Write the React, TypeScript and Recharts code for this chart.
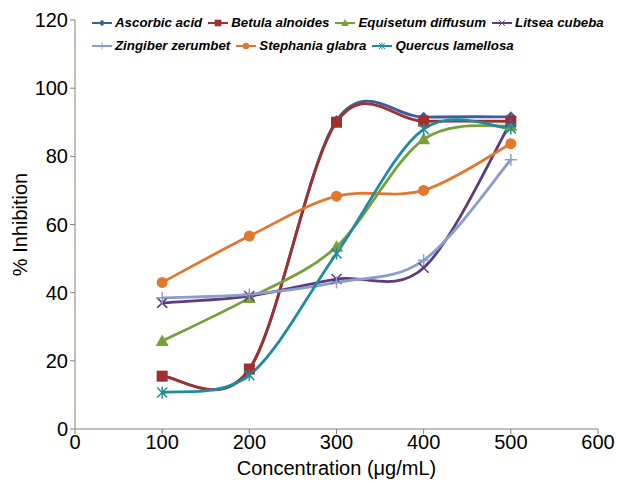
import React from 'react';
import { LineChart, Line, XAxis, YAxis } from 'recharts';

const concentrations = [100, 200, 300, 400, 500];
const ascorbicAcid = [15.5, 17.5, 90.5, 91.5, 91.6];
const betulaAlnoides = [15.5, 17.6, 90, 90.3, 90.3];
const equisetumDiffusum = [25.8, 38.4, 53.5, 85, 89];
const litseaCubeba = [37, 39, 44, 47.3, 90];
const zingiberZerumbet = [38.5, 39.5, 43, 49.5, 79];
const stephaniaGlabra = [43, 56.6, 68.3, 70, 83.7];
const quercusLamellosa = [10.7, 15.8, 51.5, 88, 88.2];

const xTicks = [0, 100, 200, 300, 400, 500, 600];
const yTicks = [0, 20, 40, 60, 80, 100, 120];

type Shape = 'diamond' | 'square' | 'triangle' | 'x' | 'plus' | 'circle' | 'star';

const series: { key: string; name: string; values: number[]; color: string; shape: Shape }[] = [
  { key: 'ascorbic', name: 'Ascorbic acid', values: ascorbicAcid, color: '#3D5E9C', shape: 'diamond' },
  { key: 'betula', name: 'Betula alnoides', values: betulaAlnoides, color: '#A0302D', shape: 'square' },
  { key: 'equisetum', name: 'Equisetum diffusum', values: equisetumDiffusum, color: '#76A03A', shape: 'triangle' },
  { key: 'litsea', name: 'Litsea cubeba', values: litseaCubeba, color: '#5E3A7E', shape: 'x' },
  { key: 'zingiber', name: 'Zingiber zerumbet', values: zingiberZerumbet, color: '#8C9DCB', shape: 'plus' },
  { key: 'stephania', name: 'Stephania glabra', values: stephaniaGlabra, color: '#E0782F', shape: 'circle' },
  { key: 'quercus', name: 'Quercus lamellosa', values: quercusLamellosa, color: '#1E8C9E', shape: 'star' },
];

const data = concentrations.map((c, i) => {
  const row: Record<string, number> = { conc: c };
  series.forEach((s) => {
    row[s.key] = s.values[i];
  });
  return row;
});

// Excel-like smoothing (Catmull-Rom Bezier)
const smoothCurve = (context: any) => {
  let pts: [number, number][] = [];
  return {
    areaStart() {},
    areaEnd() {},
    lineStart() {
      pts = [];
    },
    point(x: number, y: number) {
      pts.push([+x, +y]);
    },
    lineEnd() {
      if (!pts.length) return;
      context.moveTo(pts[0][0], pts[0][1]);
      for (let i = 0; i < pts.length - 1; i++) {
        const p0 = pts[i - 1] || pts[i];
        const p1 = pts[i];
        const p2 = pts[i + 1];
        const p3 = pts[i + 2] || pts[i + 1];
        const c1x = p1[0] + (p2[0] - p0[0]) / 6;
        const c1y = p1[1] + (p2[1] - p0[1]) / 6;
        const c2x = p2[0] - (p3[0] - p1[0]) / 6;
        const c2y = p2[1] - (p3[1] - p1[1]) / 6;
        context.bezierCurveTo(c1x, c1y, c2x, c2y, p2[0], p2[1]);
      }
    },
  };
};

const MarkerShape = ({ cx, cy, color, shape }: { cx: number; cy: number; color: string; shape: Shape }) => {
  switch (shape) {
    case 'diamond':
      return <polygon points={`${cx},${cy - 5.5} ${cx + 5.5},${cy} ${cx},${cy + 5.5} ${cx - 5.5},${cy}`} fill={color} />;
    case 'square':
      return <rect x={cx - 5.5} y={cy - 5.5} width={11} height={11} fill={color} />;
    case 'triangle':
      return <polygon points={`${cx},${cy - 6.5} ${cx + 6.5},${cy + 5} ${cx - 6.5},${cy + 5}`} fill={color} />;
    case 'x':
      return (
        <g stroke={color} strokeWidth={1.5}>
          <line x1={cx - 5} y1={cy - 5} x2={cx + 5} y2={cy + 5} />
          <line x1={cx - 5} y1={cy + 5} x2={cx + 5} y2={cy - 5} />
        </g>
      );
    case 'plus':
      return (
        <g stroke={color} strokeWidth={1.5}>
          <line x1={cx - 6} y1={cy} x2={cx + 6} y2={cy} />
          <line x1={cx} y1={cy - 6} x2={cx} y2={cy + 6} />
        </g>
      );
    case 'circle':
      return <circle cx={cx} cy={cy} r={5.5} fill={color} />;
    case 'star':
      return (
        <g stroke={color} strokeWidth={1.5}>
          <line x1={cx - 5} y1={cy - 5} x2={cx + 5} y2={cy + 5} />
          <line x1={cx - 5} y1={cy + 5} x2={cx + 5} y2={cy - 5} />
          <line x1={cx} y1={cy - 6} x2={cx} y2={cy + 6} />
        </g>
      );
  }
  return null;
};

const LegendIcon = ({ color, shape }: { color: string; shape: Shape }) => (
  <svg width={20} height={12} style={{ display: 'block', overflow: 'visible', flexShrink: 0 }}>
    <line x1={0} y1={6} x2={20} y2={6} stroke={color} strokeWidth={2} />
    <g transform="translate(10,6) scale(0.6) translate(-10,-6)">
      <MarkerShape cx={10} cy={6} color={color} shape={shape} />
    </g>
  </svg>
);

const LegendItem = ({ s }: { s: (typeof series)[number] }) => (
  <div style={{ display: 'flex', alignItems: 'center', marginRight: 6, whiteSpace: 'nowrap', flexShrink: 0 }}>
    <LegendIcon color={s.color} shape={s.shape} />
    <span style={{ marginLeft: 3 }}>{s.name}</span>
  </div>
);

const ChartLegend = () => (
  <div
    style={{
      position: 'absolute',
      left: 92,
      top: 11,
      width: 525,
      fontFamily: '"Liberation Sans", Arial, sans-serif',
      fontSize: 13.3,
      fontWeight: 'bold',
      fontStyle: 'italic',
      color: '#000',
      lineHeight: '23px',
    }}
  >
    <div style={{ display: 'flex' }}>
      {series.slice(0, 4).map((s) => (
        <LegendItem key={s.key} s={s} />
      ))}
    </div>
    <div style={{ display: 'flex' }}>
      {series.slice(4).map((s) => (
        <LegendItem key={s.key} s={s} />
      ))}
    </div>
  </div>
);

const axisColor = '#8C807A';
const font = '"Liberation Sans", Arial, sans-serif';

export default function App() {
  return (
    <div style={{ position: 'absolute', left: 0, top: 0, width: 617, height: 483, background: '#fff', overflow: 'hidden' }}>
      <LineChart width={617} height={483} data={data} margin={{ top: 20, right: 19, left: 0, bottom: 0 }}>
        <XAxis
          dataKey="conc"
          type="number"
          domain={[0, 600]}
          ticks={xTicks}
          height={54}
          stroke={axisColor}
          tickSize={5}
          tickMargin={1}
          tick={{ fill: '#000', fontSize: 20, fontFamily: font }}
          label={{
            value: 'Concentration (μg/mL)',
            position: 'insideBottom',
            offset: 8,
            style: { fill: '#000', fontSize: 20, fontFamily: font },
          }}
        />
        <YAxis
          type="number"
          domain={[0, 120]}
          ticks={yTicks}
          width={75}
          stroke={axisColor}
          tickSize={5}
          tickMargin={2}
          tick={{ fill: '#000', fontSize: 20, fontFamily: font }}
          label={{
            value: '% Inhibition',
            angle: -90,
            position: 'insideLeft',
            offset: 20,
            style: { textAnchor: 'middle', fill: '#000', fontSize: 20, fontFamily: font },
          }}
        />
        {series.map((s) => (
          <Line
            key={s.key}
            dataKey={s.key}
            name={s.name}
            type={smoothCurve as any}
            stroke={s.color}
            strokeWidth={2.8}
            isAnimationActive={false}
            dot={(props: any) => (
              <MarkerShape
                key={`${s.key}-${props.index}`}
                cx={props.cx}
                cy={props.cy}
                color={s.color}
                shape={s.shape}
              />
            )}
            activeDot={false}
          />
        ))}
      </LineChart>
      <ChartLegend />
    </div>
  );
}
